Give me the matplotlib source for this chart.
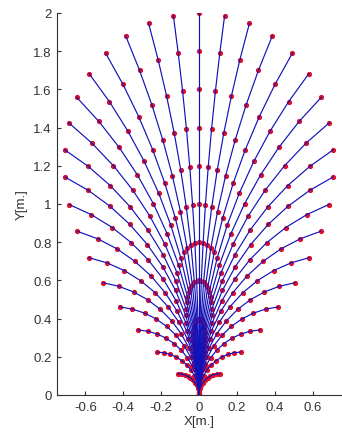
import numpy as np
import matplotlib
matplotlib.use('Agg')
import matplotlib.pyplot as plt

# linear / angular velocity samples (right half, left half mirrored)
v_list = [1.0, 0.996, 0.985, 0.966, 0.94, 0.906, 0.866, 0.819, 0.766,
          0.707, 0.643, 0.574, 0.5, 0.423, 0.342, 0.259, 0.174, 0.087]
w_list = [0.0, 0.068, 0.136, 0.203, 0.269, 0.332, 0.393, 0.450, 0.505,
          0.555, 0.602, 0.643, 0.680, 0.712, 0.738, 0.759, 0.774, 0.782]
t_list = [0.0, 0.2, 0.4, 0.6, 0.8, 1.0, 1.2, 1.4, 1.6, 1.8, 2.0]

xticks = [-0.6, -0.4, -0.2, 0, 0.2, 0.4, 0.6]
yticks = [0, 0.2, 0.4, 0.6, 0.8, 1, 1.2, 1.4, 1.6, 1.8, 2]

plt.rcParams['font.family'] = ['Liberation Sans', 'DejaVu Sans']

t = np.array(t_list)
trajs = []
for v, w in zip(v_list, w_list):
    for s in ([1] if w == 0 else [1, -1]):
        if w == 0:
            x = np.zeros_like(t)
            y = v*t
        else:
            r = v/w
            x = s*r*(1-np.cos(w*t))
            y = r*np.sin(w*t)
        trajs.append((x, y))

fig = plt.figure(figsize=(3.42, 4.39), dpi=100)
ax = fig.add_axes([57/342, 43/439, 284/342, 382/439])
for x, y in trajs:
    ax.plot(x, y, '.', color='#e0102a', ms=5.5, zorder=2)
for x, y in trajs:
    ax.plot(x, y, '-', color='#1212b8', lw=0.85, zorder=3)

ax.set_xlim(-0.75, 0.75)
ax.set_ylim(0, 2)
ax.set_xticks(xticks)
ax.set_xticklabels(['%g' % a for a in xticks])
ax.set_yticks(yticks)
ax.set_yticklabels(['%g' % a for a in yticks])
ax.tick_params(direction='in', length=3, labelsize=9.5, colors='#333333', pad=4)
ax.spines['top'].set_visible(False)
ax.spines['right'].set_visible(False)
for sp in ['left', 'bottom']:
    ax.spines[sp].set_color('#333333')
    ax.spines[sp].set_linewidth(0.8)
ax.set_xlabel('X[m.]', fontsize=9.5, color='#333333', labelpad=2)
ax.set_ylabel('Y[m.]', fontsize=9.5, color='#333333', labelpad=4)
plt.savefig('out.png', dpi=100)
